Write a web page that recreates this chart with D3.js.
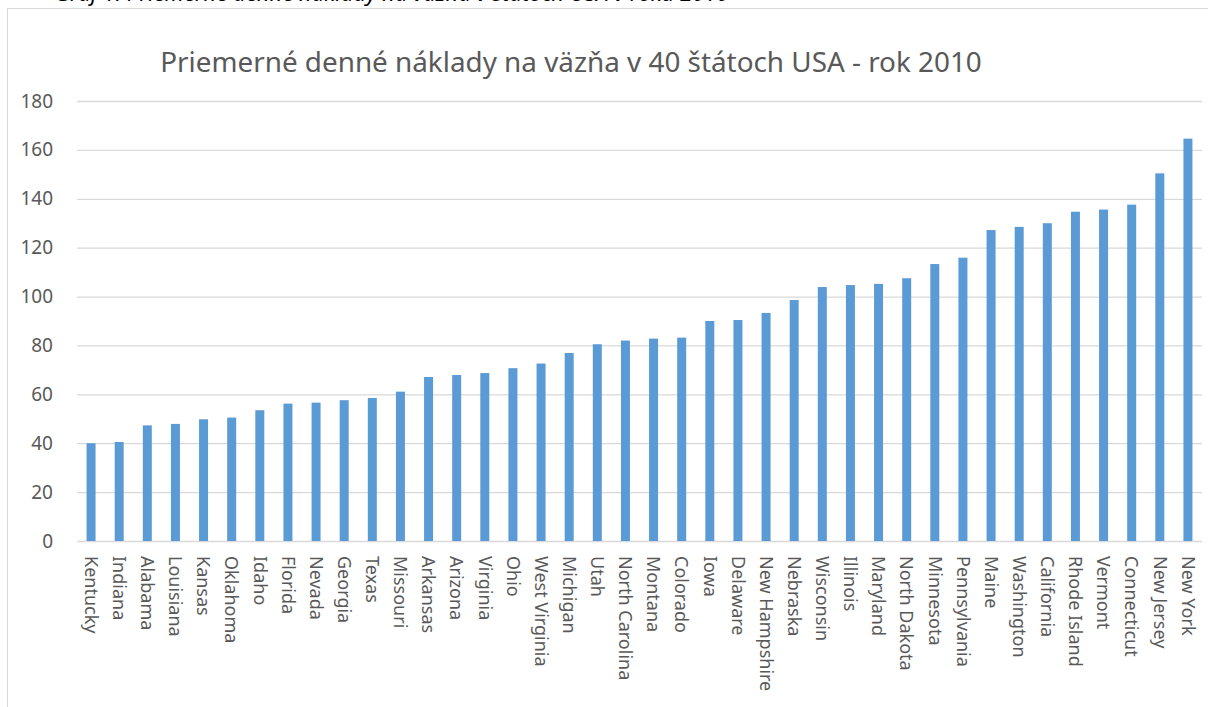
<!DOCTYPE html>
<html>
<head>
<meta charset="utf-8">
<script src="https://cdn.jsdelivr.net/npm/d3@7"></script>
<style>
  body { margin: 0; background: #fff; }
  svg { display: block; }
</style>
</head>
<body>
<div id="chart"></div>
<script>
var states = ["Kentucky", "Indiana", "Alabama", "Louisiana", "Kansas", "Oklahoma", "Idaho", "Florida",
  "Nevada", "Georgia", "Texas", "Missouri", "Arkansas", "Arizona", "Virginia", "Ohio", "West Virginia",
  "Michigan", "Utah", "North Carolina", "Montana", "Colorado", "Iowa", "Delaware", "New Hampshire",
  "Nebraska", "Wisconsin", "Illinois", "Maryland", "North Dakota", "Minnesota", "Pennsylvania", "Maine",
  "Washington", "California", "Rhode Island", "Vermont", "Connecticut", "New Jersey", "New York"];

var costs = [40.0, 40.5, 47.3, 47.9, 49.8, 50.5, 53.5, 56.2, 56.6, 57.6, 58.5, 61.1, 67.1, 67.9, 68.7,
  70.7, 72.6, 76.9, 80.5, 82.0, 82.8, 83.2, 90.0, 90.4, 93.3, 98.6, 103.9, 104.7, 105.2, 107.5, 113.3,
  115.9, 127.2, 128.5, 130.0, 134.7, 135.6, 137.6, 150.4, 164.6];

var yTicks = [0, 20, 40, 60, 80, 100, 120, 140, 160, 180];

var title = "Priemerné denné náklady na väzňa v 40 štátoch USA - rok 2010";
var caption = "Graf 1: Priemerné denné náklady na väzňa v štátoch USA v roku 2010";

var svgWidth = 1208, svgHeight = 707;
var margin = { top: 101, right: 6, bottom: 166, left: 77 };
var width = svgWidth - margin.left - margin.right;
var height = svgHeight - margin.top - margin.bottom;

var svg = d3.select("#chart")
  .append("svg")
  .attr("width", svgWidth)
  .attr("height", svgHeight);

// caption of the document, cut off at the top edge like in the page
svg.append("text")
  .attr("x", 55)
  .attr("y", 1)
  .style("font-family", "'Noto Sans', sans-serif")
  .style("font-style", "italic")
  .style("font-size", "22px")
  .attr("fill", "#000")
  .text(caption);

// chart frame
svg.append("rect")
  .attr("x", 7.5)
  .attr("y", 8.5)
  .attr("width", 1220)
  .attr("height", 720)
  .attr("fill", "none")
  .attr("stroke", "#d9d9d9")
  .attr("stroke-width", 1);

var titleText = svg.append("text")
  .attr("x", 571)
  .attr("y", 72)
  .attr("text-anchor", "middle")
  .style("font-family", "'Noto Sans', sans-serif")
  .style("font-size", "26px")
  .attr("fill", "#595959")
  .text(title);
// fit the title to the width it has in the picture
var tw = titleText.node().getComputedTextLength();
titleText.style("font-size", (26 * 822 / tw) + "px");

var g = svg.append("g")
  .attr("transform", "translate(" + margin.left + "," + margin.top + ")");

var x = d3.scaleBand()
  .domain(states)
  .range([0, width])
  .paddingInner(0.68)
  .paddingOuter(0.34);

var y = d3.scaleLinear()
  .domain([0, 180])
  .range([height, 0]);

// gridlines and y labels
var yAxis = d3.axisLeft(y)
  .tickValues(yTicks)
  .tickSize(-width)
  .tickPadding(24);

g.append("g")
  .call(yAxis)
  .call(function (sel) {
    sel.select(".domain").remove();
    sel.selectAll(".tick line").attr("stroke", "#d9d9d9").attr("stroke-width", 1.3);
    sel.selectAll(".tick text")
      .attr("fill", "#595959")
      .style("font-family", "'Noto Sans', sans-serif")
      .style("font-size", "19px");
  });

g.append("g")
  .selectAll("rect")
  .data(costs)
  .enter()
  .append("rect")
  .attr("x", function (d, i) { return x(states[i]); })
  .attr("y", function (d) { return y(d); })
  .attr("width", x.bandwidth())
  .attr("height", function (d) { return y(0) - y(d); })
  .attr("fill", "#5b9bd5");

// x labels, rotated
var xAxis = d3.axisBottom(x).tickSize(0).tickPadding(0);

g.append("g")
  .attr("transform", "translate(0," + height + ")")
  .call(xAxis)
  .call(function (sel) {
    sel.select(".domain").remove();
    sel.selectAll(".tick text")
      .attr("transform", "rotate(90)")
      .attr("x", 15)
      .attr("y", 0)
      .attr("dy", "0.35em")
      .attr("text-anchor", "start")
      .attr("fill", "#595959")
      .style("font-family", "'Noto Sans', sans-serif")
      .style("font-size", "18px");
  });
</script>
</body>
</html>
